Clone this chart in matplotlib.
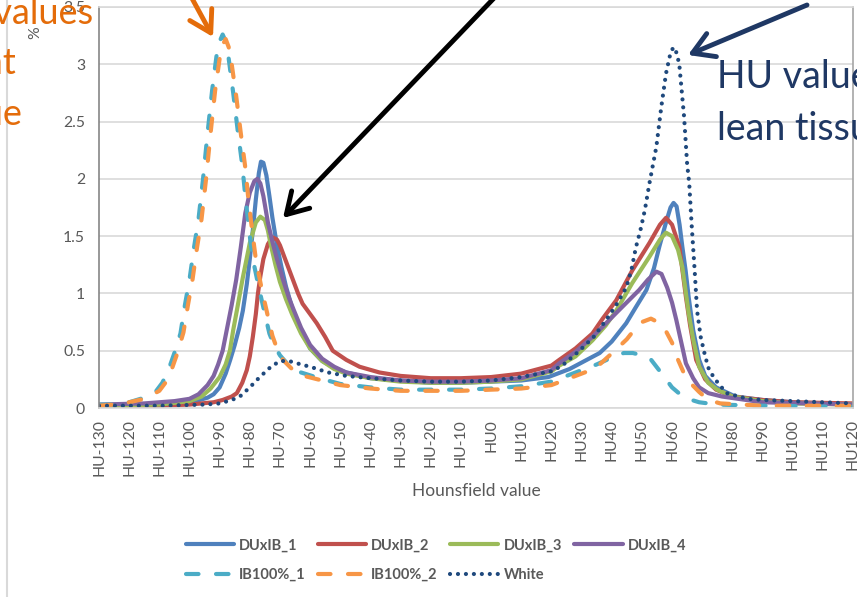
import matplotlib.pyplot as plt
from matplotlib.lines import Line2D

plt.rcParams['font.family'] = ['Lato', 'DejaVu Sans']

# HU positions and % values, one pair of lists per series
du1_hu = [-130, -115, -105, -98, -94, -92, -90, -88, -86.5, -85, -83.5, -82.3, -81, -80, -79, -78, -77, -76.3,
          -75.5, -74.5, -73.5, -72.5, -71, -69.5, -68, -65.7, -63, -60, -56, -52, -48, -40, -30, -20, -10, 0,
          10, 19, 26, 31, 36, 40, 44.8, 48, 51.5, 54, 55.8, 58, 59.5, 60.5, 61.5, 62.5, 63.4, 64.5, 65.5, 67,
          69, 71, 74.6, 81, 90, 100, 110, 120]
du1_pct = [0.02, 0.03, 0.04, 0.06, 0.09, 0.12, 0.18, 0.3, 0.42, 0.55, 0.7, 0.85, 1.08, 1.3, 1.55, 1.82, 2.05, 2.15,
           2.14, 2.03, 1.85, 1.66, 1.42, 1.23, 1.06, 0.85, 0.68, 0.52, 0.41, 0.35, 0.31, 0.26, 0.24, 0.22, 0.22, 0.23,
           0.24, 0.27, 0.34, 0.41, 0.48, 0.58, 0.74, 0.88, 1.03, 1.22, 1.41, 1.62, 1.75, 1.79, 1.76, 1.6, 1.41, 1.2,
           0.97, 0.68, 0.42, 0.28, 0.18, 0.1, 0.07, 0.05, 0.04, 0.03]

du2_hu = [-130, -110, -100, -92, -89, -86, -84.3, -82.5, -81, -80, -79, -78, -77.3, -76.5, -75.5, -74, -72.5, -71,
          -70, -68, -66, -64, -62.5, -60, -57.8, -55, -52.5, -48, -43.6, -37, -30, -20, -10, 0, 10, 20, 22.6, 28,
          33.6, 37, 41.5, 46.8, 52.5, 56, 58, 60, 62.4, 64.6, 66, 68, 71, 74.6, 80, 90, 100, 120]
du2_pct = [0.02, 0.02, 0.03, 0.05, 0.07, 0.1, 0.13, 0.22, 0.33, 0.45, 0.62, 0.82, 1.0, 1.15, 1.3, 1.43, 1.49, 1.47,
           1.42, 1.28, 1.14, 1.0, 0.91, 0.82, 0.74, 0.62, 0.5, 0.42, 0.36, 0.31, 0.28, 0.26, 0.26, 0.27, 0.3, 0.37,
           0.42, 0.52, 0.65, 0.78, 0.94, 1.2, 1.44, 1.6, 1.66, 1.6, 1.41, 0.97, 0.72, 0.42, 0.25, 0.16, 0.1, 0.07,
           0.05, 0.04]

du3_hu = [-130, -110, -100, -96, -93, -90, -88, -86.6, -85.5, -84.3, -82.3, -80, -78, -76.5, -75, -74, -73, -71.5,
          -70, -68, -66, -63, -60, -56, -52, -48, -40, -30, -20, -10, 0, 10, 20, 22.6, 28, 33.6, 38, 41.5, 46.8,
          52.5, 56, 58, 60, 62, 63.4, 65.5, 67, 69, 72, 75, 80, 90, 100, 120]
du3_pct = [0.02, 0.03, 0.06, 0.1, 0.17, 0.27, 0.38, 0.5, 0.68, 0.85, 1.14, 1.44, 1.62, 1.67, 1.64, 1.55, 1.42, 1.25,
           1.1, 0.95, 0.82, 0.65, 0.52, 0.41, 0.34, 0.3, 0.26, 0.23, 0.22, 0.22, 0.23, 0.25, 0.32, 0.37, 0.45, 0.59,
           0.72, 0.85, 1.09, 1.32, 1.47, 1.53, 1.5, 1.38, 1.23, 0.83, 0.6, 0.36, 0.22, 0.16, 0.1, 0.06, 0.04, 0.03]

du4_hu = [-130, -115, -105, -100, -97, -94, -92, -90.5, -89, -87.5, -86, -84.5, -83, -81.5, -80, -78.5, -77.5,
          -76.5, -75.5, -74, -72.5, -71, -69, -67, -65.5, -63, -60, -56, -52, -48, -40, -30, -20, -10, 0, 10, 20,
          22.6, 28, 33.6, 41.5, 49.1, 52, 54.8, 56.5, 58.4, 60, 61.4, 63, 64.6, 67, 69, 72, 76.6, 90, 120]
du4_pct = [0.03, 0.04, 0.06, 0.08, 0.12, 0.2, 0.28, 0.38, 0.5, 0.7, 0.9, 1.12, 1.4, 1.7, 1.88, 1.98, 2.0, 1.96,
           1.85, 1.62, 1.45, 1.3, 1.12, 0.96, 0.86, 0.7, 0.55, 0.43, 0.36, 0.31, 0.27, 0.24, 0.23, 0.23, 0.24, 0.26,
           0.33, 0.39, 0.49, 0.62, 0.83, 1.03, 1.12, 1.19, 1.17, 1.05, 0.92, 0.77, 0.58, 0.39, 0.26, 0.18, 0.13, 0.1,
           0.05, 0.03]

ib1_hu = [-130, -125, -120, -115, -111, -109, -107, -105, -103, -101.5, -100, -98.5, -97, -95.5, -94, -92.5, -91,
          -90, -89, -88, -87, -85.5, -84, -82.5, -81.5, -80, -79, -77, -75, -73.5, -72, -70, -67, -63, -57, -50,
          -40, -30, -20, -10, 0, 10, 20, 25, 30, 35, 40, 44, 47, 50, 52.5, 56, 60, 64, 69, 75, 90, 120]
ib1_pct = [0.03, 0.03, 0.05, 0.09, 0.15, 0.22, 0.33, 0.48, 0.65, 0.9, 1.12, 1.4, 1.65, 2.0, 2.4, 2.77, 3.08, 3.2,
           3.26, 3.2, 3.05, 2.75, 2.42, 2.12, 1.85, 1.5, 1.3, 1.05, 0.82, 0.65, 0.55, 0.46, 0.37, 0.31, 0.26, 0.21,
           0.18, 0.16, 0.16, 0.16, 0.17, 0.19, 0.23, 0.28, 0.33, 0.38, 0.44, 0.48, 0.48, 0.46, 0.44, 0.32, 0.18,
           0.09, 0.05, 0.03, 0.02, 0.01]

ib2_hu = [-130, -125, -120, -115, -110, -108, -106, -104, -102, -100.5, -99, -97.5, -96, -94.5, -93, -91.5, -90,
          -89, -88, -87, -86, -84.5, -83, -81.5, -80.5, -79, -78, -76, -74, -72.5, -71, -69, -66, -62, -56, -50,
          -40, -30, -20, -10, 0, 10, 20, 26, 32, 36, 41, 45, 48, 50, 53, 56, 58, 60, 62, 64, 66, 69, 72, 76, 90, 120]
ib2_pct = [0.02, 0.03, 0.05, 0.08, 0.15, 0.22, 0.33, 0.48, 0.66, 0.9, 1.12, 1.4, 1.65, 2.0, 2.4, 2.77, 3.05, 3.17,
           3.22, 3.15, 3.0, 2.72, 2.4, 2.1, 1.83, 1.5, 1.3, 1.03, 0.8, 0.63, 0.52, 0.42, 0.34, 0.28, 0.24, 0.2,
           0.17, 0.15, 0.15, 0.15, 0.16, 0.17, 0.2, 0.26, 0.32, 0.38, 0.5, 0.6, 0.7, 0.75, 0.78, 0.74, 0.67, 0.57,
           0.42, 0.3, 0.22, 0.14, 0.07, 0.04, 0.02, 0.02]

white_hu = [-130, -110, -95, -90, -86, -83.3, -80, -76.7, -73, -70, -67, -63, -60, -54, -48, -40, -30, -20, -10, 0,
            10, 20, 23.6, 29.3, 34, 38.2, 41.5, 44.8, 46.5, 48, 49.5, 51, 52.5, 54.8, 56.4, 58, 59.5, 60.5, 61.5,
            62.4, 64, 65, 65.7, 66.5, 67.5, 68.3, 69.5, 71, 72.3, 74.6, 78, 85, 90, 100, 110, 120]
white_pct = [0.02, 0.02, 0.03, 0.04, 0.07, 0.1, 0.18, 0.27, 0.36, 0.41, 0.41, 0.38, 0.36, 0.31, 0.28, 0.26, 0.24,
             0.23, 0.23, 0.24, 0.27, 0.32, 0.37, 0.5, 0.62, 0.77, 0.9, 1.05, 1.2, 1.4, 1.55, 1.73, 1.96, 2.28, 2.62,
             2.92, 3.1, 3.15, 3.1, 3.0, 2.54, 2.13, 1.96, 1.6, 1.2, 0.85, 0.62, 0.45, 0.33, 0.24, 0.13, 0.08, 0.07,
             0.06, 0.05, 0.04]

x_ticks = list(range(-130, 121, 10))
x_tick_labels = ['HU%d' % v for v in x_ticks]
y_ticks = [0, 0.5, 1, 1.5, 2, 2.5, 3, 3.5]
y_tick_labels = ['0', '0.5', '1', '1.5', '2', '2.5', '3', '3.5']

series = [
    ('DUxIB_1', du1_hu, du1_pct, '#4F81BD', 'solid'),
    ('DUxIB_2', du2_hu, du2_pct, '#C0504D', 'solid'),
    ('DUxIB_3', du3_hu, du3_pct, '#9BBB59', 'solid'),
    ('DUxIB_4', du4_hu, du4_pct, '#8064A2', 'solid'),
    ('IB100%_1', ib1_hu, ib1_pct, '#4BACC6', 'dash'),
    ('IB100%_2', ib2_hu, ib2_pct, '#F79646', 'dash'),
    ('White', white_hu, white_pct, '#1F497D', 'dot'),
]

W, H = 857, 597
gray = '#595959'

fig = plt.figure(figsize=(W / 100, H / 100), dpi=100)
ax = fig.add_axes([99 / W, 189 / H, 754 / W, 401 / H])

lines = []
for name, hu, pct, color, style in series:
    if style == 'solid':
        ln, = ax.plot(hu, pct, color=color, lw=3.0, solid_capstyle='round', solid_joinstyle='round', label=name)
    elif style == 'dash':
        ln, = ax.plot(hu, pct, color=color, lw=3.0, dashes=(3, 4.2), dash_capstyle='round', label=name)
    else:
        ln, = ax.plot(hu, pct, color=color, lw=3.0, dashes=(0.01, 1.9), dash_capstyle='round', label=name)
    lines.append(ln)

ax.set_xlim(-130, 120)
ax.set_ylim(0, 3.5)
ax.set_xticks(x_ticks)
ax.set_xticklabels(x_tick_labels, rotation=90)
ax.set_yticks(y_ticks)
ax.set_yticklabels(y_tick_labels)
ax.tick_params(axis='both', length=0, colors=gray, labelsize=11.3)
ax.tick_params(axis='y', pad=10)
ax.tick_params(axis='x', pad=8)
ax.yaxis.grid(True, color='#d9d9d9', lw=1.2)
ax.set_axisbelow(True)
ax.spines['left'].set_color('#868686')
ax.spines['bottom'].set_color('#d9d9d9')
ax.spines['top'].set_color('#d9d9d9')
ax.spines['right'].set_color('#a6a6a6')
for s in ax.spines.values():
    s.set_linewidth(1.2)

fig.text(476 / W, 1 - 491 / H, 'Hounsfield value', ha='center', va='center', color=gray, fontsize=12.5)
fig.text(35 / W, 1 - 33 / H, '%', ha='center', va='center', rotation=90, color=gray, fontsize=11.3)

# legend: 4 columns, rows DUxIB_1..4 / IB100%_1, IB100%_2, White
order = [0, 4, 1, 5, 2, 6, 3]
fig.legend([lines[i] for i in order], [lines[i].get_label() for i in order], ncol=4, loc='center',
           bbox_to_anchor=(436 / W, 1 - 560 / H), frameon=False, prop={'weight': 'bold', 'size': 10.5},
           labelcolor=gray, handlelength=3.3, handletextpad=0.35, columnspacing=0.85, labelspacing=1.05)

# chart area left border
fig.add_artist(Line2D([7 / W, 7 / W], [0, 1], color='#d9d9d9', lw=1.5))

# callouts (va='baseline' anchors the last line)
fig.text(93 / W, 1 - 125 / H, 'HU values\nof fat\ntissue', ha='right', va='baseline', ma='left',
         fontsize=26, color='#E46C0A', linespacing=1.65, zorder=5)
fig.text(717 / W, 1 - 140 / H, 'HU values of\nlean tissue', ha='left', va='baseline', ma='left',
         fontsize=27, color='#1F3864', linespacing=1.55, zorder=5)

arrows = [
    ((182, -20), (213, 37), '#E46C0A'),
    ((497, -5), (283, 218), '#000000'),
    ((807, 5), (688, 55), '#1F3864'),
]
for (x0, y0), (x1, y1), c in arrows:
    ax.annotate('', xy=(x1, H - y1), xytext=(x0, H - y0), xycoords='figure pixels', textcoords='figure pixels',
                annotation_clip=False,
                arrowprops=dict(arrowstyle='->,head_length=0.75,head_width=0.45', color=c, lw=3.5,
                                shrinkA=0, shrinkB=0, mutation_scale=20))

fig.savefig('out.png', dpi=100)
